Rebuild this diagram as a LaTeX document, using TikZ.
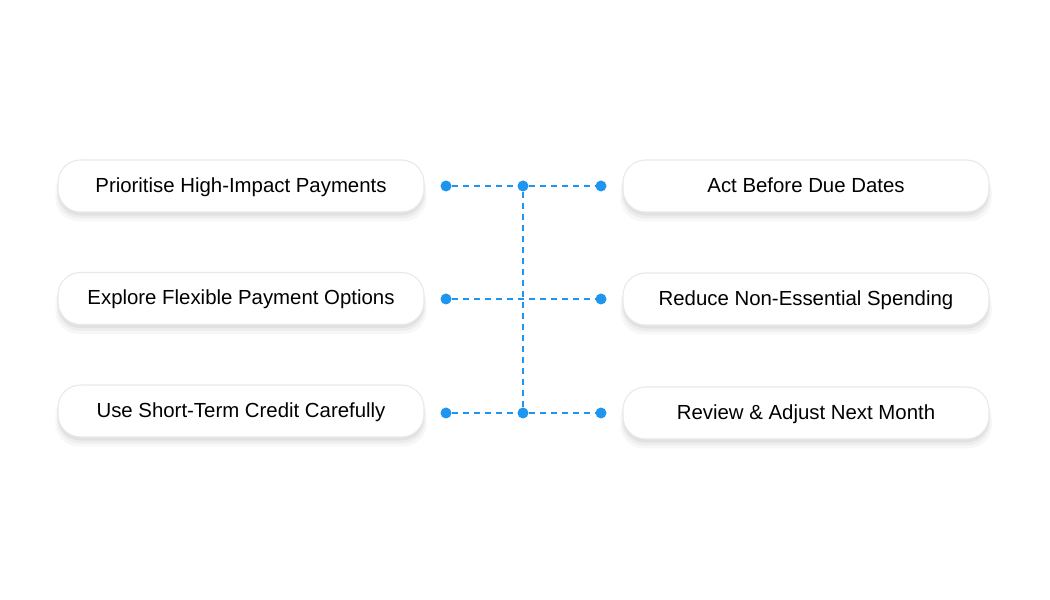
\documentclass[tikz,border=0pt]{standalone}
\usepackage{fontspec}
\setmainfont{Liberation Sans}
\usetikzlibrary{shadows}
\definecolor{dotblue}{HTML}{1E96F0}
\definecolor{boxline}{HTML}{E8E8E8}
\begin{document}
\begin{tikzpicture}[
step box/.style={rectangle, rounded corners=0.45cm, draw=boxline, line width=0.6pt, fill=white,
  minimum width=7.32cm, minimum height=1.04cm, font=\fontsize{11.6}{13}\selectfont,
  text height=1.55ex, text depth=0.25ex,
  general shadow={fill=black, opacity=0.03, shadow yshift=-5pt, shadow scale=1.015},
  general shadow={fill=black, opacity=0.04, shadow yshift=-3.5pt, shadow scale=1.005},
  general shadow={fill=black, opacity=0.05, shadow yshift=-2pt}},
dot/.style={circle, fill=dotblue, inner sep=0pt, minimum size=0.22cm},
link/.style={draw=dotblue, line width=0.85pt, dash pattern=on 0.12cm off 0.1cm},
]
\useasboundingbox (0,0) rectangle (21,12);

% Left column
\node[step box] (L1) at (4.82,8.28) {Prioritise High-Impact Payments};
\node[step box] (L2) at (4.82,6.03) {Explore Flexible Payment Options};
\node[step box] (L3) at (4.82,3.78) {Use Short-Term Credit Carefully};

% Right column
\node[step box] (R1) at (16.12,8.28) {Act Before Due Dates};
\node[step box] (R2) at (16.12,6.02) {Reduce Non-Essential Spending};
\node[step box] (R3) at (16.12,3.74) {Review \& Adjust Next Month};

% Dots
\node[dot] (A1) at (8.92,8.28) {};
\node[dot] (M1) at (10.46,8.28) {};
\node[dot] (B1) at (12.02,8.28) {};
\node[dot] (A2) at (8.92,6.02) {};
\node[dot] (B2) at (12.02,6.02) {};
\node[dot] (A3) at (8.92,3.74) {};
\node[dot] (M3) at (10.46,3.74) {};
\node[dot] (B3) at (12.02,3.74) {};

% Connectors
\draw[link] (A1) -- (M1);
\draw[link] (M1) -- (B1);
\draw[link] (A2) -- (B2);
\draw[link] (A3) -- (M3);
\draw[link] (M3) -- (B3);
\draw[link] (M1) -- (M3);

\end{tikzpicture}
\end{document}
